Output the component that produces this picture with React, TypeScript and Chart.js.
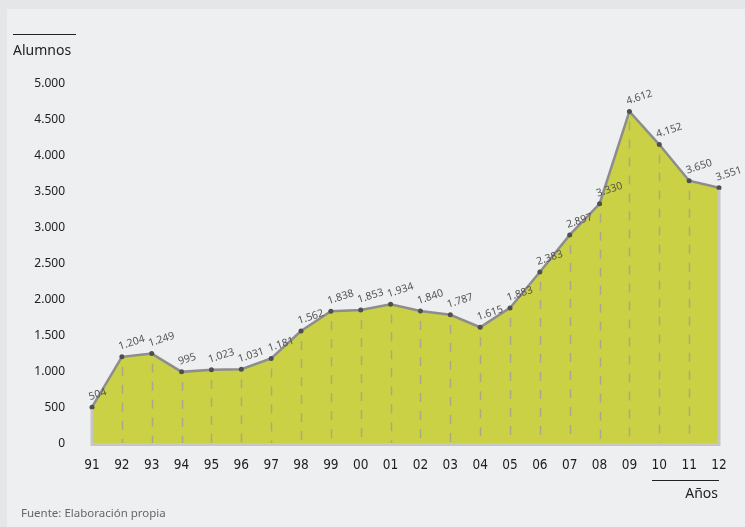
import React, { useEffect, useRef } from 'react';
import { Chart, registerables } from 'chart.js';

Chart.register(...registerables);

const years = ['91', '92', '93', '94', '95', '96', '97', '98', '99', '00', '01', '02', '03', '04', '05', '06', '07', '08', '09', '10', '11', '12'];
const alumnos = [504, 1204, 1249, 995, 1023, 1031, 1181, 1562, 1838, 1853, 1934, 1840, 1787, 1615, 1883, 2383, 2897, 3330, 4612, 4152, 3650, 3551];
const yMin = 0;
const yMax = 5000;
const yStep = 500;

const yTitle = 'Alumnos';
const xTitle = 'Años';
const source = 'Fuente: Elaboración propia';

const fmt = (v: number) => {
  const s = String(Math.round(v));
  return s.replace(/\B(?=(\d{3})+(?!\d))/g, '.');
};

const FILL = '#cbd144';
const LINE = '#8d8d8d';
const POINT = '#4f4f4f';

const outlinePlugin = {
  id: 'outline',
  afterDatasetsDraw(chart: any) {
    const meta = chart.getDatasetMeta(0);
    const pts = meta.data;
    if (!pts.length) return;
    const ctx = chart.ctx;
    const bottom = chart.scales.y.getPixelForValue(0);
    ctx.save();
    ctx.strokeStyle = 'rgba(160,160,150,0.8)';
    ctx.lineWidth = 1.5;
    ctx.setLineDash([9, 9]);
    for (let i = 1; i < pts.length - 1; i++) {
      const p = pts[i];
      ctx.beginPath();
      ctx.moveTo(Math.round(p.x) + 0.5, p.y + 10);
      ctx.lineTo(Math.round(p.x) + 0.5, bottom);
      ctx.stroke();
    }
    ctx.setLineDash([]);
    const first = pts[0];
    const last = pts[pts.length - 1];
    ctx.strokeStyle = '#c6c6c6';
    ctx.lineWidth = 3;
    ctx.beginPath();
    ctx.moveTo(first.x, first.y + 2);
    ctx.lineTo(first.x, bottom + 1);
    ctx.lineTo(last.x, bottom + 1);
    ctx.lineTo(last.x, last.y + 2);
    ctx.stroke();
    ctx.restore();
  },
};

const labelPlugin = {
  id: 'valueLabels',
  afterDraw(chart: any) {
    const meta = chart.getDatasetMeta(0);
    const ctx = chart.ctx;
    const data = chart.data.datasets[0].data as number[];
    ctx.save();
    ctx.font = '10.5px "Noto Sans", "Open Sans", sans-serif';
    ctx.fillStyle = '#555555';
    ctx.textAlign = 'left';
    ctx.textBaseline = 'alphabetic';
    meta.data.forEach((p: any, i: number) => {
      ctx.save();
      ctx.translate(p.x - 2, p.y - 7);
      ctx.rotate((-18 * Math.PI) / 180);
      ctx.fillText(fmt(data[i]), 0, 0);
      ctx.restore();
    });
    ctx.restore();
  },
};

export default function App() {
  const ref = useRef<HTMLCanvasElement | null>(null);

  useEffect(() => {
    if (!ref.current) return;
    const chart = new Chart(ref.current, {
      type: 'line',
      data: {
        labels: years,
        datasets: [
          {
            data: alumnos,
            borderColor: LINE,
            borderWidth: 2.5,
            backgroundColor: FILL,
            fill: 'origin',
            pointRadius: 2.5,
            pointBackgroundColor: POINT,
            pointBorderWidth: 0,
            tension: 0,
            clip: false as any,
          },
        ],
      },
      options: {
        animation: false,
        responsive: false,
        devicePixelRatio: 1,
        layout: { padding: { top: 83.5, right: 26, bottom: 43.5, left: 0 } },
        plugins: {
          legend: { display: false },
          tooltip: { enabled: false },
          title: { display: false },
        },
        scales: {
          x: {
            type: 'category',
            offset: false,
            grid: { display: false },
            border: { display: false },
            ticks: {
              color: '#1e1e1e',
              font: { family: '"Liberation Sans Narrow", "DejaVu Sans Condensed", "Noto Sans", sans-serif', size: 13.5 },
              padding: 6,
              maxRotation: 0,
              autoSkip: false,
            },
            afterFit(scale: any) {
              scale.height = 40;
            },
          },
          y: {
            min: yMin,
            max: yMax,
            grid: { display: false },
            border: { display: false },
            ticks: {
              stepSize: yStep,
              color: '#222222',
              font: { family: '"Noto Sans", "Open Sans", sans-serif', size: 12 },
              padding: 19,
              callback: (v: any) => fmt(Number(v)),
            },
            afterFit(scale: any) {
              scale.width = 92;
            },
          },
        },
      },
      plugins: [outlinePlugin, labelPlugin],
    });
    return () => chart.destroy();
  }, []);

  const font = '"Noto Sans", "Open Sans", sans-serif';

  return (
    <div style={{ position: 'absolute', left: 0, top: 0, width: 745, height: 527, background: '#e5e6e8', overflow: 'hidden', fontFamily: font }}>
      <div style={{ position: 'absolute', left: 7, top: 9, width: 738, height: 518, background: '#eeeff1' }} />
      <canvas ref={ref} width={745} height={527} style={{ position: 'absolute', left: 0, top: 0, width: 745, height: 527 }} />
      <div style={{ position: 'absolute', left: 13, top: 34, width: 63, height: 1, background: '#222' }} />
      <div style={{ position: 'absolute', left: 13, top: 40, fontSize: 14, lineHeight: '20px', color: '#222' }}>{yTitle}</div>
      <div style={{ position: 'absolute', left: 652, top: 480, width: 67, height: 1, background: '#222' }} />
      <div style={{ position: 'absolute', right: 745 - 718, top: 483, fontSize: 14, lineHeight: '20px', color: '#222' }}>{xTitle}</div>
      <div style={{ position: 'absolute', left: 21, top: 504, fontSize: 11.5, lineHeight: '18px', color: '#666' }}>{source}</div>
    </div>
  );
}
